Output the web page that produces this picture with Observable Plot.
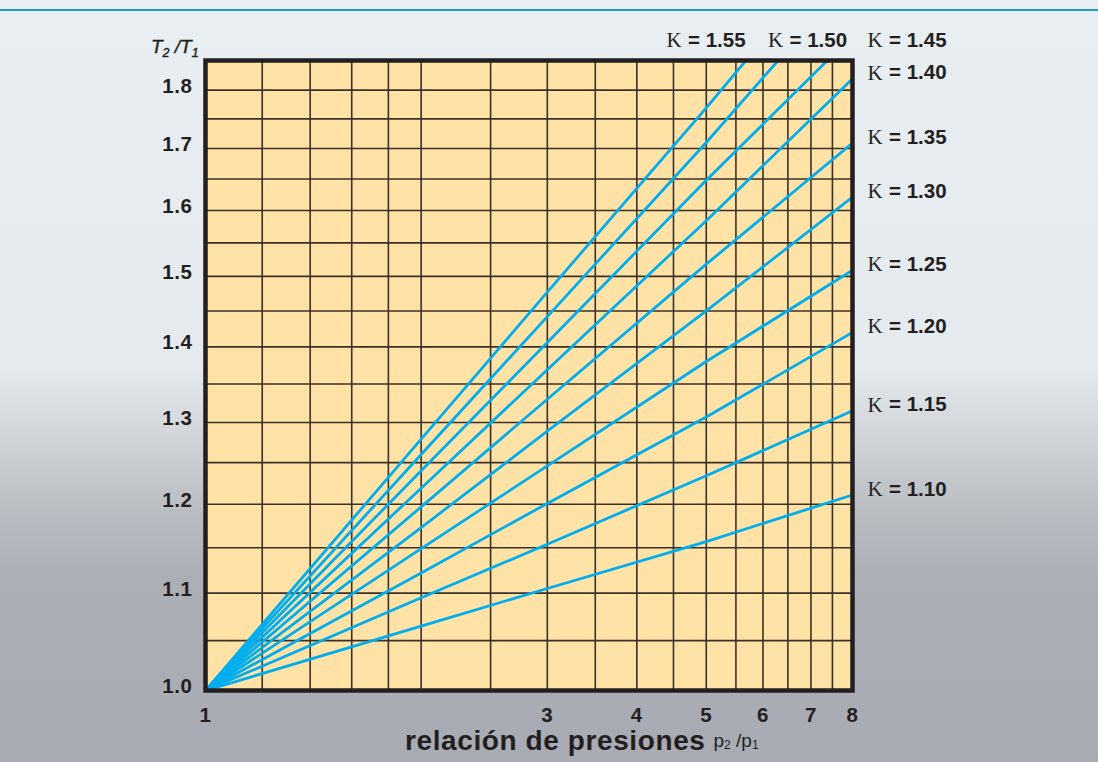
<!DOCTYPE html>
<html>
<head>
<meta charset="utf-8">
<script src="https://cdn.jsdelivr.net/npm/d3@7"></script>
<script src="https://cdn.jsdelivr.net/npm/@observablehq/plot@0.6"></script>
<style>
  html, body { margin: 0; padding: 0; }
  #wrap {
    position: relative; width: 1098px; height: 762px; overflow: hidden;
    background: linear-gradient(to bottom, #e8eef1 0%, #e4eaed 48%, #d6dade 55%, #bcc0c5 66%, #acafb6 75%, #a8abb3 100%);
    font-family: "Liberation Sans", Arial, sans-serif;
  }
  #rule { position: absolute; left: 0; top: 9px; width: 1098px; height: 2px; background: #1e9ec6; }
  #chart { position: absolute; left: 0; top: 0; }
  #chart svg { background: transparent; overflow: visible; }
  .tick-lbl text { letter-spacing: 0.6px; }
</style>
</head>
<body>
<div id="wrap"><div id="rule"></div><div id="chart"></div></div>
<script>
// ---- data ----
const kappas      = [1.10, 1.15, 1.20, 1.25, 1.30, 1.35, 1.40, 1.45, 1.50, 1.55];
const kappaLabels = ["1.10","1.15","1.20","1.25","1.30","1.35","1.40","1.45","1.50","1.55"];
// T2/T1 read at p2/p1 = 2, 3 and 5
const tempAt2 = [1.065, 1.095, 1.122, 1.149, 1.173, 1.197, 1.219, 1.240, 1.260, 1.279];
const tempAt3 = [1.105, 1.154, 1.201, 1.246, 1.289, 1.330, 1.369, 1.406, 1.442, 1.477];
const tempAt5 = [1.157, 1.234, 1.307, 1.380, 1.450, 1.518, 1.584, 1.648, 1.710, 1.769];
// end of each curve: right border (p2/p1 = 8) or the top border of the grid
const endRatio = [8, 8, 8, 8, 8, 8, 8, 7.38, 6.30, 5.68];
const endTemp  = [1.211, 1.315, 1.420, 1.509, 1.621, 1.709, 1.820, 1.853, 1.853, 1.853];

const xGrid = [1, 1.2, 1.4, 1.6, 1.8, 2, 2.5, 3, 3.5, 4, 4.5, 5, 5.5, 6, 6.5, 7, 7.5, 8];
const yGrid = [1.00, 1.05, 1.10, 1.15, 1.20, 1.25, 1.30, 1.35, 1.40, 1.45, 1.50, 1.55, 1.60, 1.65, 1.70, 1.75, 1.80];
const xTickLabels = [1, 3, 4, 5, 6, 7, 8];
const yTickLabels = [1.0, 1.1, 1.2, 1.3, 1.4, 1.5, 1.6, 1.7, 1.8];

// ---- build tables ----
const rows = [];
kappas.forEach((k, i) => {
  rows.push({k, p: 1, t: 1});
  [[2, tempAt2[i]], [3, tempAt3[i]], [5, tempAt5[i]]].forEach(([p, t]) => {
    if (p < endRatio[i]) rows.push({k, p, t});
  });
  rows.push({k, p: endRatio[i], t: endTemp[i]});
});
const sideLabels = kappas.map((k, i) => ({k, p: endRatio[i], t: endTemp[i], label: "= " + kappaLabels[i]}))
  .filter(d => d.p === 8);
const topLabels = kappas.map((k, i) => ({k, label: "= " + kappaLabels[i]})).filter(d => d.k >= 1.45);

const ink = "#231f20";
const lblFont = {fontSize: 20.5, fontWeight: "bold", fontFamily: "Liberation Sans, Arial, sans-serif", fill: ink};
const kapFont = {fontSize: 21, fontFamily: "Liberation Serif, DejaVu Serif, serif", fill: ink};
const topOffsets = {"1.55": -186, "1.50": -84.5, "1.45": 15};

const topMarks = topLabels.flatMap(d => {
  const dx = topOffsets[d.label.slice(2)];
  return [
    Plot.text([d], {frameAnchor: "top-right", text: () => "\u039A", dx, dy: -20, textAnchor: "start", lineAnchor: "middle", ...kapFont}),
    Plot.text([d], {frameAnchor: "top-right", text: "label", dx: dx + 21.5, dy: -20, textAnchor: "start", lineAnchor: "middle", ...lblFont})
  ];
});

const chart = Plot.plot({
  width: 1098,
  height: 762,
  marginLeft: 205,
  marginRight: 246,
  marginTop: 60,
  marginBottom: 72,
  style: {background: "transparent", color: ink, overflow: "visible"},
  x: {type: "log", domain: [1, 8]},
  y: {type: "log", domain: [1, 1.853]},
  marks: [
    Plot.frame({fill: "#fee2a6", stroke: "none"}),
    Plot.ruleX(xGrid, {stroke: "#3b3028", strokeWidth: 1.6}),
    Plot.ruleY(yGrid, {stroke: "#3b3028", strokeWidth: 1.6}),
    Plot.line(rows, {x: "p", y: "t", z: "k", stroke: "#00aeef", strokeWidth: 2.8, curve: "linear", clip: true}),
    Plot.frame({stroke: ink, strokeWidth: 4.5}),
    Plot.axisY(yTickLabels, {tickSize: 0, tickPadding: 13, dy: -4, tickFormat: d3.format(".1f"), label: null, className: "tick-lbl", ...lblFont}),
    Plot.axisX(xTickLabels, {tickSize: 0, tickPadding: 17, tickFormat: d => String(d), label: null, className: "tick-lbl", ...lblFont}),
    Plot.text(sideLabels, {x: "p", y: "t", text: () => "\u039A", dx: 15, dy: -6, textAnchor: "start", lineAnchor: "middle", ...kapFont}),
    Plot.text(sideLabels, {x: "p", y: "t", text: "label", dx: 36.5, dy: -6, textAnchor: "start", lineAnchor: "middle", ...lblFont}),
    ...topMarks
  ]
});

document.getElementById("chart").appendChild(chart);

// axis titles (with subscripts)
const svg = d3.select(chart);
const yl = svg.append("text").attr("x", 151).attr("y", 53).attr("text-anchor", "start")
  .attr("font-family", "Liberation Sans, Arial, sans-serif").attr("font-size", 19)
  .attr("font-style", "italic").attr("fill", ink).attr("stroke", ink).attr("stroke-width", 0.4);
yl.append("tspan").text("T");
yl.append("tspan").attr("font-size", 12.5).attr("dy", 4).text("2");
yl.append("tspan").attr("dy", -4).text(" /T");
yl.append("tspan").attr("font-size", 12.5).attr("dy", 4).text("1");

const xl = svg.append("text").attr("x", 405).attr("y", 750).attr("text-anchor", "start")
  .attr("font-family", "Liberation Sans, Arial, sans-serif").attr("fill", ink);
xl.append("tspan").attr("font-size", 28).attr("font-weight", "bold").attr("letter-spacing", "0.6px").text("relación de presiones");
xl.append("tspan").attr("font-size", 19).attr("dx", 8).attr("dy", -3).text("p");
xl.append("tspan").attr("font-size", 12).attr("dy", 2).text("2");
xl.append("tspan").attr("font-size", 19).attr("dy", -2).text(" /p");
xl.append("tspan").attr("font-size", 12).attr("dy", 2).text("1");
</script>
</body>
</html>
